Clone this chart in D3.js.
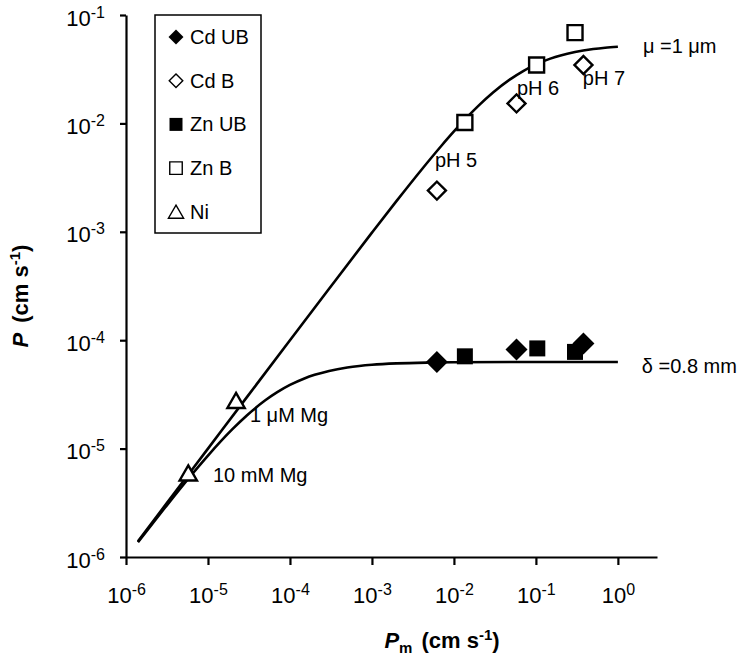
<!DOCTYPE html>
<html>
<head>
<meta charset="utf-8">
<script src="https://cdn.jsdelivr.net/npm/d3@7"></script>
<style>
  html, body { margin: 0; padding: 0; background: #fff; }
  svg { display: block; font-family: "Liberation Sans", Arial, sans-serif; }
</style>
</head>
<body>
<svg id="chart" width="747" height="662"></svg>
<script>
// ---------- data ----------
const xTickValues = [1e-6, 1e-5, 1e-4, 1e-3, 1e-2, 1e-1, 1];
const xTickExps   = ["-6", "-5", "-4", "-3", "-2", "-1", "0"];
const yTickValues = [1e-6, 1e-5, 1e-4, 1e-3, 1e-2, 1e-1];
const yTickExps   = ["-6", "-5", "-4", "-3", "-2", "-1"];

// model line "mu = 1 um"
const muLineX = [1.4e-6, 3e-6, 1e-5, 3e-5, 1e-4, 3e-4, 1e-3, 2e-3, 4e-3, 7e-3, 1e-2, 1.5e-2, 2e-2, 3e-2, 5e-2, 7e-2, 0.1, 0.15, 0.2, 0.3, 0.5, 0.7, 1];
const muLineY = [1.40e-6, 3.0e-6, 1.0e-5, 3.0e-5, 9.98e-5, 2.983e-4, 9.82e-4, 1.928e-3, 3.72e-3, 6.19e-3, 8.43e-3, 1.173e-2, 1.458e-2, 1.926e-2, 2.59e-2, 3.04e-2, 3.50e-2, 3.96e-2, 4.24e-2, 4.56e-2, 4.85e-2, 4.99e-2, 5.10e-2];

// model line "delta = 0.8 mm"
const deltaLineX = [1.4e-6, 3e-6, 6e-6, 1e-5, 2e-5, 3e-5, 5e-5, 7e-5, 1e-4, 1.5e-4, 2e-4, 3e-4, 5e-4, 7e-4, 1e-3, 2e-3, 5e-3, 1e-2, 0.1, 1];
const deltaLineY = [1.37e-6, 2.86e-6, 5.48e-6, 8.63e-6, 1.518e-5, 2.032e-5, 2.79e-5, 3.316e-5, 3.865e-5, 4.437e-5, 4.79e-5, 5.207e-5, 5.595e-5, 5.78e-5, 5.93e-5, 6.11e-5, 6.22e-5, 6.26e-5, 6.30e-5, 6.30e-5];

// measured series
const cdUBx = [6.2e-3, 0.058, 0.38];
const cdUBy = [6.3e-5, 8.2e-5, 9.3e-5];
const znUBx = [0.0136, 0.104, 0.30];
const znUBy = [7.1e-5, 8.4e-5, 7.8e-5];
const cdBx  = [6.2e-3, 0.058, 0.38];
const cdBy  = [2.4e-3, 0.0153, 0.0346];
const znBx  = [0.0136, 0.102, 0.30];
const znBy  = [0.0102, 0.0346, 0.0687];
const niX   = [5.75e-6, 2.2e-5];
const niY   = [5.9e-6, 2.75e-5];

const legendLabels = ["Cd UB", "Cd B", "Zn UB", "Zn B", "Ni"];

// annotation texts and their anchor positions (data space)
const noteTexts = ["pH 5", "pH 6", "pH 7", "\u03bc =1 \u03bcm", "\u03b4 =0.8 mm", "1 \u03bcM Mg", "10 mM Mg"];
const noteX = [5.86e-3, 0.0586, 0.374, 2.02, 1.96, 3.25e-5, 1.15e-5];
const noteY = [3.96e-3, 0.0183, 0.0226, 0.0446, 4.98e-5, 1.76e-5, 4.92e-6];

// ---------- drawing ----------
const svg = d3.select("#chart");
const FONT = "'Liberation Sans', Arial, sans-serif";

const x = d3.scaleLog().domain([1e-6, 3]).range([126, 657]);
const y = d3.scaleLog().domain([1e-6, 1e-1]).range([557, 15]);
const x0 = x(1e-6), y0 = y(1e-6);

// x axis
const gx = svg.append("g").attr("transform", `translate(0,${y0})`)
  .call(d3.axisBottom(x).tickValues(xTickValues).tickSize(8).tickSizeOuter(0).tickFormat(() => ""));
gx.select(".domain").attr("stroke", "#000").attr("stroke-width", 2.2);
gx.selectAll(".tick line").attr("stroke", "#000").attr("stroke-width", 2.2);
gx.selectAll(".tick").each(function(d, i) {
  const t = d3.select(this).append("text")
    .attr("x", 0).attr("y", 46).attr("fill", "#000")
    .attr("text-anchor", "middle").attr("font-size", 22).attr("font-family", FONT);
  t.append("tspan").text("10");
  t.append("tspan").attr("font-size", 16).attr("dy", -8).text(xTickExps[i]);
});

// y axis
const gy = svg.append("g").attr("transform", `translate(${x0},0)`)
  .call(d3.axisLeft(y).tickValues(yTickValues).tickSize(6).tickSizeOuter(0).tickFormat(() => ""));
gy.select(".domain").attr("stroke", "#000").attr("stroke-width", 2.2);
gy.selectAll(".tick line").attr("stroke", "#000").attr("stroke-width", 2.2);
gy.selectAll(".tick").each(function(d, i) {
  const t = d3.select(this).append("text")
    .attr("x", -21).attr("y", 10).attr("fill", "#000")
    .attr("text-anchor", "end").attr("font-size", 22).attr("font-family", FONT);
  t.append("tspan").text("10");
  t.append("tspan").attr("font-size", 16).attr("dy", -8).text(yTickExps[i]);
});

// axis titles
const xt = svg.append("text").attr("x", 442).attr("y", 648).attr("text-anchor", "middle")
  .attr("font-size", 22).attr("font-weight", "bold").attr("font-family", FONT);
xt.append("tspan").attr("font-style", "italic").text("P");
xt.append("tspan").attr("font-size", 15).attr("dy", 5).text("m");
xt.append("tspan").attr("dy", -5).attr("dx", 9).text("(cm s");
xt.append("tspan").attr("font-size", 15).attr("dy", -8).text("-1");
xt.append("tspan").attr("dy", 8).text(")");

const yt = svg.append("text").attr("transform", "translate(28,296) rotate(-90)").attr("text-anchor", "middle")
  .attr("font-size", 22).attr("font-weight", "bold").attr("font-family", FONT);
yt.append("tspan").attr("font-style", "italic").text("P");
yt.append("tspan").attr("dx", 10).text("(cm s");
yt.append("tspan").attr("font-size", 15).attr("dy", -8).text("-1");
yt.append("tspan").attr("dy", 8).text(")");

// model lines
const line = d3.line().x(d => x(d[0])).y(d => y(d[1])).curve(d3.curveMonotoneX);
svg.append("path").datum(muLineX.map((v, i) => [v, muLineY[i]]))
  .attr("d", line).attr("fill", "none").attr("stroke", "#000").attr("stroke-width", 2.6);
svg.append("path").datum(deltaLineX.map((v, i) => [v, deltaLineY[i]]))
  .attr("d", line).attr("fill", "none").attr("stroke", "#000").attr("stroke-width", 2.6);

// markers
const styles = {
  cdUB: { type: d3.symbolSquare, size: 242, rot: 45, fill: "#000", stroke: "none", sw: 0, lsize: 112 },
  cdB:  { type: d3.symbolSquare, size: 162, rot: 45, fill: "#fff", stroke: "#000", sw: 2.4, lsize: 92 },
  znUB: { type: d3.symbolSquare, size: 256, rot: 0,  fill: "#000", stroke: "none", sw: 0, lsize: 169 },
  znB:  { type: d3.symbolSquare, size: 225, rot: 0,  fill: "#fff", stroke: "#000", sw: 2.4, lsize: 156 },
  ni:   { type: d3.symbolTriangle, size: 130, rot: 0, fill: "#fff", stroke: "#000", sw: 2.4, lsize: 100 }
};
function drawSeries(xs, ys, st) {
  const dy = st.type === d3.symbolTriangle ? 2 : 0;
  svg.append("g").selectAll("path").data(xs.map((v, i) => [v, ys[i]])).join("path")
    .attr("d", d3.symbol().type(st.type).size(st.size))
    .attr("transform", d => `translate(${x(d[0])},${y(d[1]) + dy}) rotate(${st.rot})`)
    .attr("fill", st.fill).attr("stroke", st.stroke).attr("stroke-width", st.sw)
    .attr("stroke-linejoin", "miter");
}
drawSeries(cdBx, cdBy, styles.cdB);
drawSeries(znBx, znBy, styles.znB);
drawSeries(niX, niY, styles.ni);
drawSeries(znUBx, znUBy, styles.znUB);
drawSeries(cdUBx, cdUBy, styles.cdUB);

// annotations
svg.append("g").selectAll("text").data(noteTexts).join("text")
  .attr("x", (d, i) => x(noteX[i])).attr("y", (d, i) => y(noteY[i]))
  .attr("font-size", 20).attr("font-family", FONT).attr("fill", "#000")
  .text(d => d);

// legend
const lg = svg.append("g");
lg.append("rect").attr("x", 155).attr("y", 15).attr("width", 106).attr("height", 218)
  .attr("fill", "#fff").attr("stroke", "#000").attr("stroke-width", 1.5);
const legStyles = [styles.cdUB, styles.cdB, styles.znUB, styles.znB, styles.ni];
legendLabels.forEach((lab, i) => {
  const cy = 37 + i * 43.7;
  const st = legStyles[i];
  const dy = st.type === d3.symbolTriangle ? 2 : 0;
  lg.append("path").attr("d", d3.symbol().type(st.type).size(st.lsize))
    .attr("transform", `translate(176,${cy + dy}) rotate(${st.rot})`)
    .attr("fill", st.fill).attr("stroke", st.stroke).attr("stroke-width", st.sw ? 1.4 : 0);
  lg.append("text").attr("x", 190).attr("y", cy + 7).attr("font-size", 20)
    .attr("font-family", FONT).text(lab);
});
</script>
</body>
</html>
